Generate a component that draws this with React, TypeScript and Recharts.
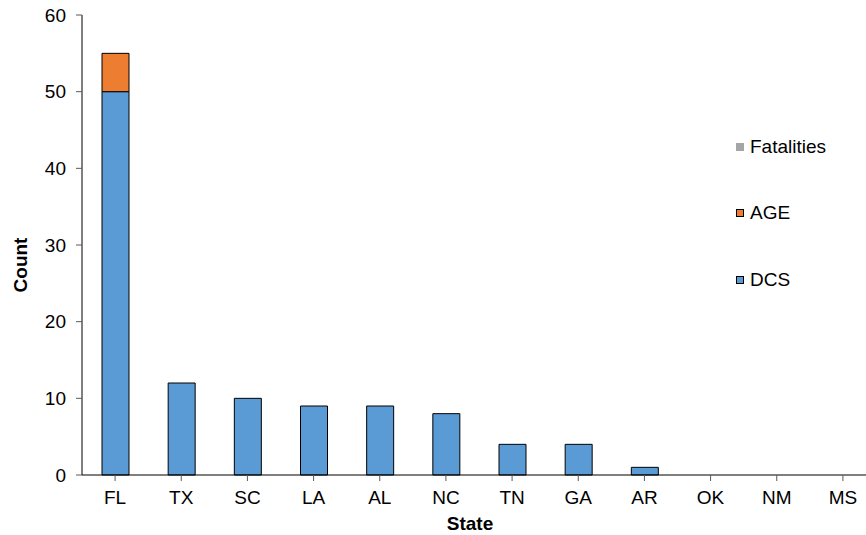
import React from 'react';
import { BarChart, Bar, XAxis, YAxis, Legend } from 'recharts';

const states = ['FL', 'TX', 'SC', 'LA', 'AL', 'NC', 'TN', 'GA', 'AR', 'OK', 'NM', 'MS'];
const dcs = [50, 12, 10, 9, 9, 8, 4, 4, 1, 0, 0, 0];
const age = [5, 0, 0, 0, 0, 0, 0, 0, 0, 0, 0, 0];
const fatalities = [0, 0, 0, 0, 0, 0, 0, 0, 0, 0, 0, 0];
const yTicks = [0, 10, 20, 30, 40, 50, 60];

// legend order as in the picture (top to bottom)
const legendItems = [
  { name: 'Fatalities', color: '#A5A5A5', border: '#A5A5A5' },
  { name: 'AGE', color: '#ED7D31', border: '#000' },
  { name: 'DCS', color: '#5B9BD5', border: '#000' },
];

const data = states.map((state, i) => ({
  state,
  DCS: dcs[i],
  AGE: age[i],
  Fatalities: fatalities[i],
}));

const FONT = '"Liberation Sans", Arial, sans-serif';
const FS = 19;

const renderLegend = () => (
  <div style={{ fontFamily: FONT, fontSize: FS, color: '#000' }}>
    {legendItems.map((item) => (
      <div key={item.name} style={{ display: 'flex', alignItems: 'center', height: 20, marginBottom: 46.5 }}>
        <span
          style={{
            display: 'inline-block',
            width: 8,
            height: 8,
            boxSizing: 'border-box',
            background: item.color,
            border: `1px solid ${item.border}`,
            marginRight: 6,
          }}
        />
        <span>{item.name}</span>
      </div>
    ))}
  </div>
);

const renderCountLabel = (props: any) => {
  const vb = props.viewBox || {};
  const cx = vb.x + 20;
  const cy = vb.y + vb.height / 2 + 20;
  return (
    <text
      x={cx}
      y={cy}
      transform={`rotate(-90, ${cx}, ${cy})`}
      textAnchor="middle"
      dominantBaseline="central"
      fontFamily={FONT}
      fontSize={FS}
      fontWeight="bold"
      fill="#000"
    >
      Count
    </text>
  );
};

export default function App() {
  return (
    <div style={{ position: 'absolute', left: 0, top: 0, width: 866, height: 535, overflow: 'hidden', background: '#fff' }}>
      <BarChart
        width={880}
        height={535}
        data={data}
        margin={{ top: 15, right: 4, bottom: 0, left: 0 }}
        barCategoryGap={0}
      >
        <XAxis
          dataKey="state"
          height={60}
          axisLine={{ stroke: '#000', strokeWidth: 1 }}
          tickLine={{ stroke: '#595959' }}
          tickSize={6}
          tickMargin={10}
          interval={0}
          tick={{ fill: '#000', fontSize: FS, fontFamily: FONT }}
          label={{
            value: 'State',
            position: 'insideBottom',
            offset: 5,
            dx: -9,
            fill: '#000',
            fontSize: FS,
            fontWeight: 'bold',
            fontFamily: FONT,
          }}
        />
        <YAxis
          width={82}
          domain={[0, 60]}
          ticks={yTicks}
          interval={0}
          axisLine={{ stroke: '#000', strokeWidth: 1 }}
          tickLine={{ stroke: '#595959' }}
          tickSize={6}
          tickMargin={10}
          tick={{ fill: '#000', fontSize: FS, fontFamily: FONT }}
          label={renderCountLabel}
        />
        <Legend
          content={renderLegend}
          layout="vertical"
          align="center"
          verticalAlign="middle"
          wrapperStyle={{ left: 736, top: 136.5, width: 125, height: 170 }}
        />
        <Bar dataKey="DCS" stackId="a" fill="#5B9BD5" stroke="#000" strokeWidth={1} barSize={27} isAnimationActive={false} />
        <Bar dataKey="AGE" stackId="a" fill="#ED7D31" stroke="#000" strokeWidth={1} barSize={27} isAnimationActive={false} />
        <Bar dataKey="Fatalities" stackId="a" fill="#A5A5A5" stroke="#000" strokeWidth={1} barSize={27} isAnimationActive={false} />
      </BarChart>
    </div>
  );
}
